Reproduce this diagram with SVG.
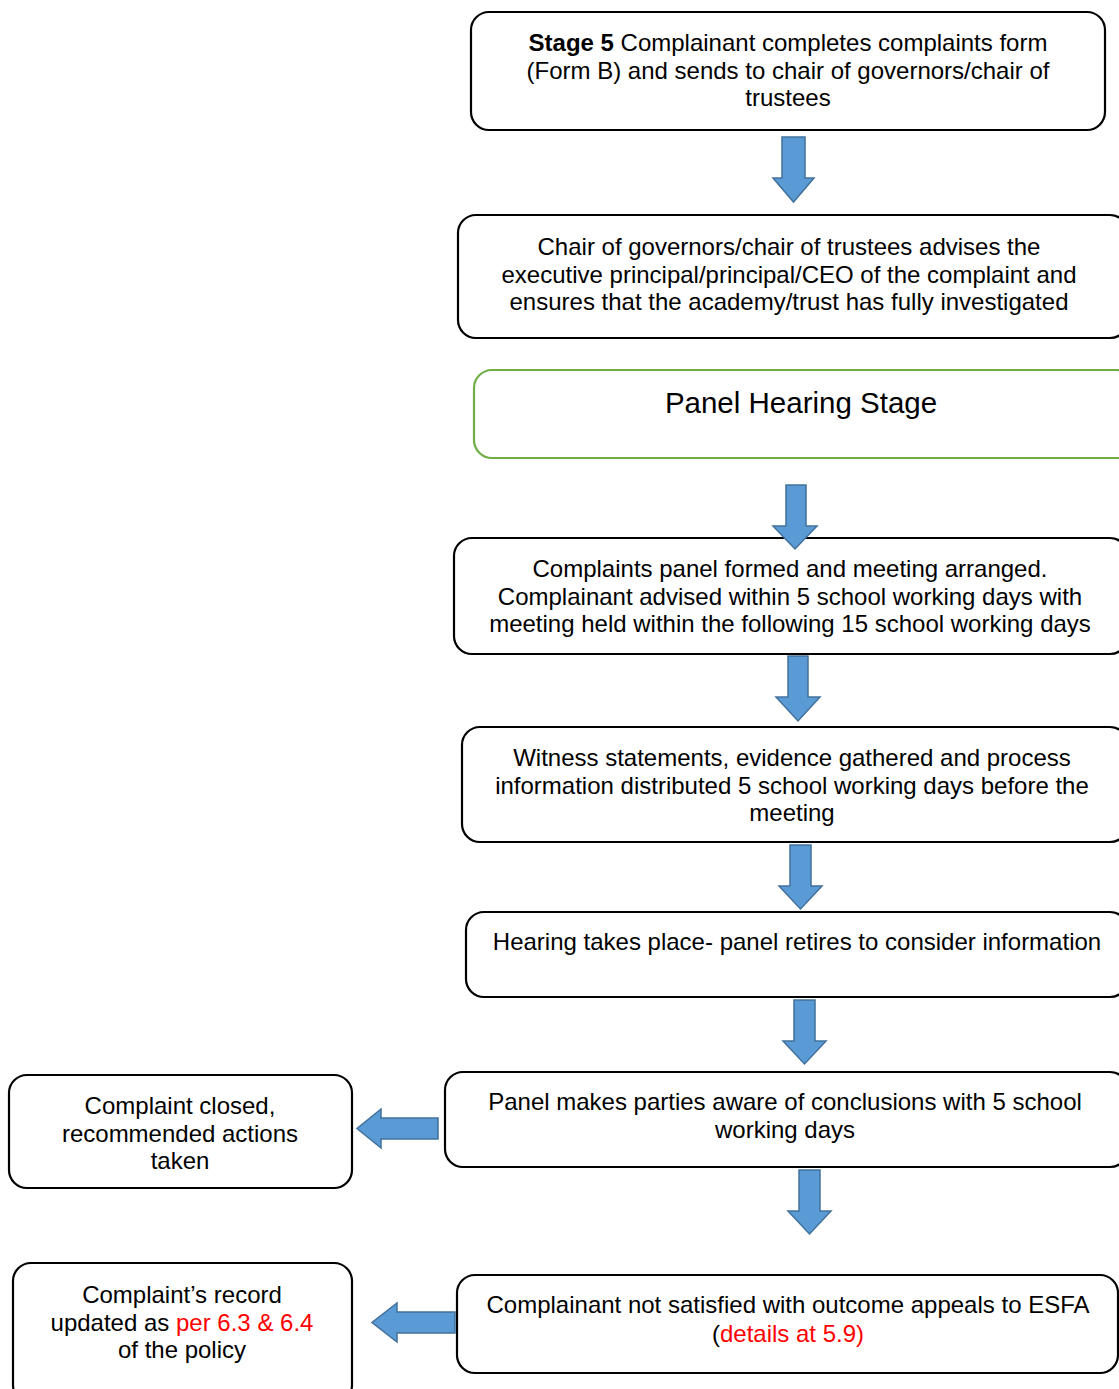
<svg xmlns="http://www.w3.org/2000/svg" width="1119" height="1389" viewBox="0 0 1119 1389">
<style>
.box{fill:#fff;stroke:#000;stroke-width:2.2}
.green{fill:#fff;stroke:#70AD47;stroke-width:2.2}
.arr{fill:#5B9BD5;stroke:#41719C;stroke-width:1.5}
text{font-family:"Liberation Sans",Arial,sans-serif;font-size:24px;fill:#000;text-anchor:middle}
text.big{font-size:29.5px}
.red{fill:#FF0000}
</style>
<rect width="1119" height="1389" fill="#fff"/>
<g id="n1"><rect class="box" x="471" y="12" width="634" height="118" rx="18"/>
<text x="788" y="51"><tspan font-weight="bold">Stage 5</tspan> Complainant completes complaints form</text>
<text x="788" y="79">(Form B) and sends to chair of governors/chair of</text>
<text x="788" y="106">trustees</text></g>
<g id="n2"><rect class="box" x="458" y="215" width="670" height="123" rx="18"/>
<text x="789" y="255">Chair of governors/chair of trustees advises the</text>
<text x="789" y="283">executive principal/principal/CEO of the complaint and</text>
<text x="789" y="310">ensures that the academy/trust has fully investigated</text></g>
<g id="n3"><rect class="green" x="474" y="370" width="660" height="88" rx="18"/>
<text class="big" x="801" y="413">Panel Hearing Stage</text></g>
<g id="n4"><rect class="box" x="454" y="538" width="674" height="116" rx="18"/>
<text x="790" y="577">Complaints panel formed and meeting arranged.</text>
<text x="790" y="605">Complainant advised within 5 school working days with</text>
<text x="790" y="632">meeting held within the following 15 school working days</text></g>
<g id="n5"><rect class="box" x="462" y="727" width="666" height="115" rx="18"/>
<text x="792" y="766">Witness statements, evidence gathered and process</text>
<text x="792" y="794">information distributed 5 school working days before the</text>
<text x="792" y="821">meeting</text></g>
<g id="n6"><rect class="box" x="466" y="912" width="662" height="85" rx="18"/>
<text x="797" y="950">Hearing takes place- panel retires to consider information</text></g>
<g id="n7"><rect class="box" x="445" y="1072" width="683" height="95" rx="18"/>
<text x="785" y="1110">Panel makes parties aware of conclusions with 5 school</text>
<text x="785" y="1138">working days</text></g>
<g id="n8"><rect class="box" x="9" y="1075" width="343" height="113" rx="18"/>
<text x="180" y="1114">Complaint closed,</text>
<text x="180" y="1142">recommended actions</text>
<text x="180" y="1169">taken</text></g>
<g id="n9"><rect class="box" x="457" y="1275" width="661" height="98" rx="18"/>
<text x="788" y="1313">Complainant not satisfied with outcome appeals to ESFA</text>
<text x="788" y="1342">(<tspan class="red">details at 5.9)</tspan></text></g>
<g id="n10"><rect class="box" x="13" y="1263" width="339" height="140" rx="18"/>
<text x="182" y="1303">Complaint’s record</text>
<text x="182" y="1331">updated as <tspan class="red">per 6.3 &amp; 6.4</tspan></text>
<text x="182" y="1358">of the policy</text></g>
<g id="connectors">
<path class="arr" d="M782,137 H805 V178 H814 L793.5,202 L773,178 H782 Z"/>
<path class="arr" d="M786,485 H806 V526 H817 L795,549 L773,526 H786 Z"/>
<path class="arr" d="M788,656 H808 V697 H820 L798,721 L776,697 H788 Z"/>
<path class="arr" d="M790,845 H811 V886 H822 L800.5,909 L779,886 H790 Z"/>
<path class="arr" d="M794,1000 H815 V1041 H826 L804.5,1064 L783,1041 H794 Z"/>
<path class="arr" d="M799,1170 H820 V1211 H831 L809.5,1234 L788,1211 H799 Z"/>
<path class="arr" d="M438,1118 V1139 H381 V1148 L357,1128.5 L381,1109 V1118 Z"/>
<path class="arr" d="M455,1312 V1333 H397 V1342 L372,1322.5 L397,1303 V1312 Z"/>
</g>
</svg>
